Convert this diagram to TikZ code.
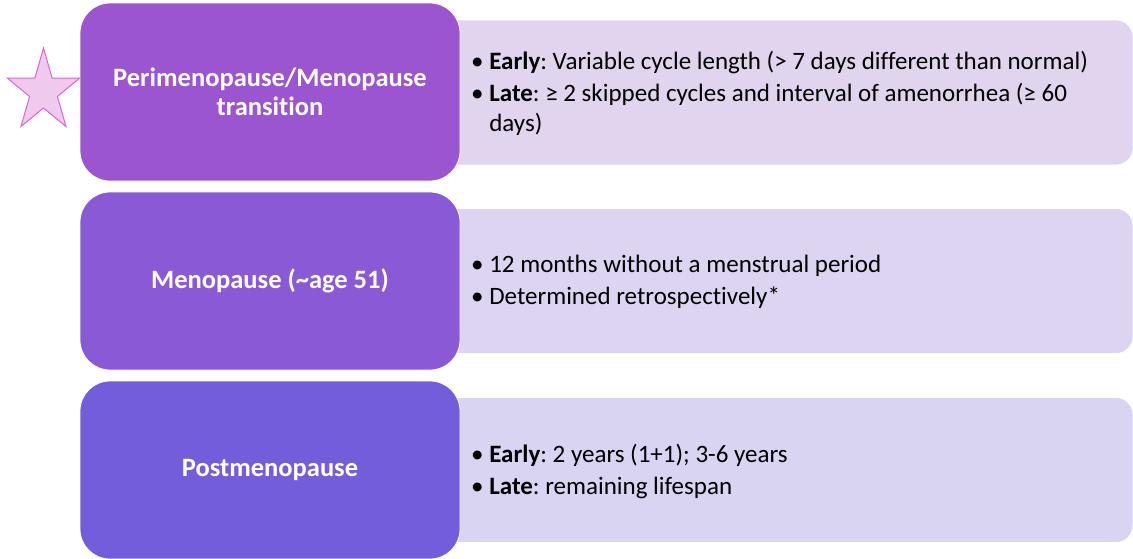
\documentclass[tikz,border=0pt]{standalone}
\usepackage{fontspec}
\setmainfont{Carlito}[Ligatures=NoCommon]
\definecolor{lA}{HTML}{9B55D1}
\definecolor{lB}{HTML}{8A5AD6}
\definecolor{lC}{HTML}{745DDA}
\definecolor{rA}{HTML}{E1D4EF}
\definecolor{rB}{HTML}{DDD4F1}
\definecolor{rC}{HTML}{D9D4F2}
\definecolor{starfill}{HTML}{F0C9EE}
\definecolor{stardraw}{HTML}{DE64CC}
\tikzset{
  leftbox/.style={rounded corners=30pt, minimum width=380pt, minimum height=178pt, draw=white, line width=0.8pt, text=white, align=center, font=\fontsize{26.5}{29}\selectfont\bfseries, inner sep=0pt},
  rightbox/.style={rounded corners=17pt, minimum width=713pt, minimum height=145pt, draw=white, line width=0.8pt, inner sep=0pt},
  bullets/.style={anchor=west, align=left, text=black, font=\fontsize{25}{30}\selectfont, inner sep=0pt}
}
\newcommand{\bul}{•\ }
\newcommand{\ind}{\phantom{•\ }}
\frenchspacing
\begin{document}
\begin{tikzpicture}[x=1pt,y=-1pt]
\useasboundingbox (0,0) rectangle (1133,558);
% right boxes
\node[rightbox, fill=rA] (R1) at (776.5,92.5) {};
\node[rightbox, fill=rB] (R2) at (776.5,281) {};
\node[rightbox, fill=rC] (R3) at (776.5,470) {};
% left boxes
\node[leftbox, fill=lA] (L1) at (270,92) {Perimenopause/Menopause\\transition};
\node[leftbox, fill=lB] (L2) at (270,281) {Menopause (\textasciitilde age 51)};
\node[leftbox, fill=lC] (L3) at (270,470) {Postmenopause};
% texts
\node[bullets] (T1) at (471,93) {\bul\textbf{Early}: Variable cycle length (> 7 days different than normal)\\[2pt]
\bul\textbf{Late}: ≥ 2 skipped cycles and interval of amenorrhea (≥ 60\\
\ind days)};
\node[bullets] (T2) at (471,282) {\bul 12 months without a menstrual period\\[2pt]
\bul Determined retrospectively*};
\node[bullets] (T3) at (471,471) {\bul\textbf{Early}: 2 years (1+1); 3-6 years\\[2pt]
\bul\textbf{Late}: remaining lifespan};
% star
\draw[fill=starfill, draw=stardraw, line width=1pt, line join=miter]
  (43.5,48) -- (52.1,78) -- (79.8,78) -- (57.4,96.5) -- (66,126.5) -- (43.5,108)
  -- (21,126.5) -- (29.6,96.5) -- (7.2,78) -- (34.9,78) -- cycle;
\end{tikzpicture}
\end{document}
